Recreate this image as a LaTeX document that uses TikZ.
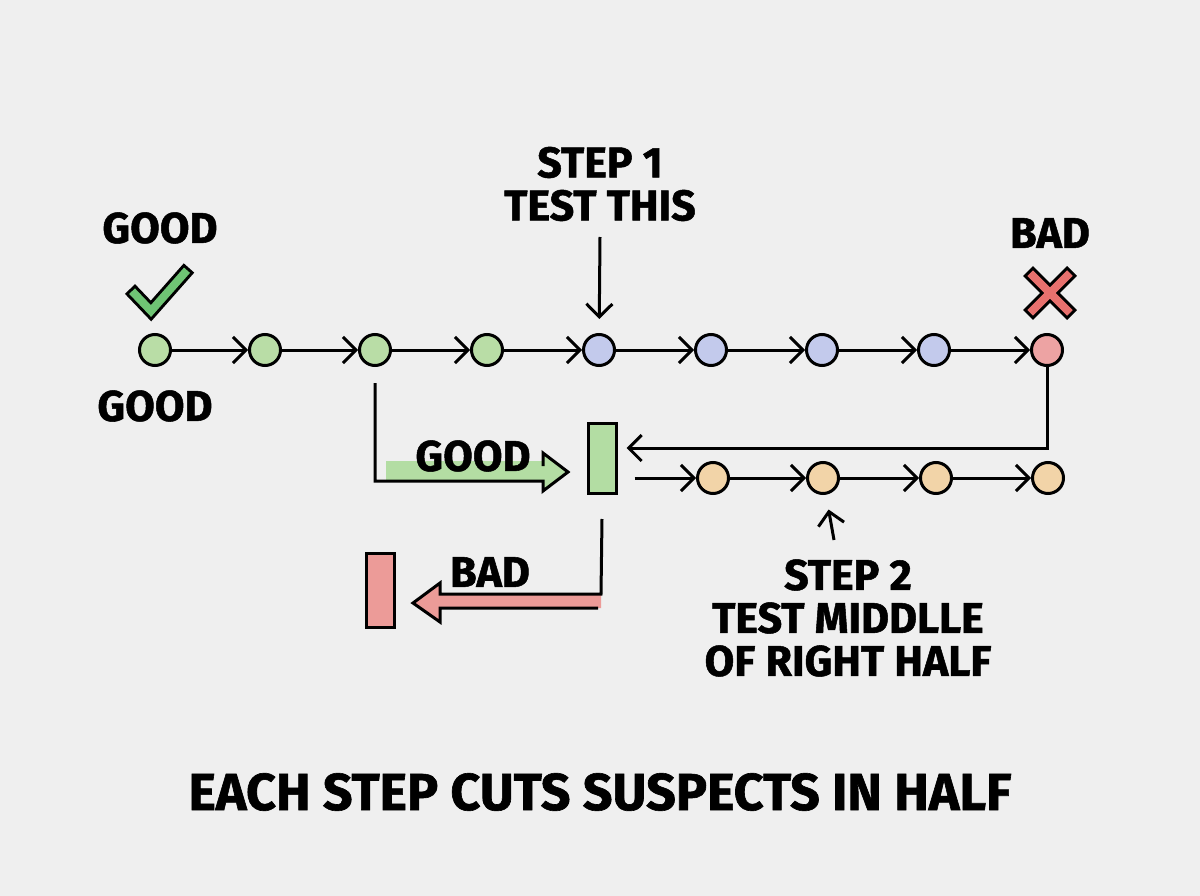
\documentclass[tikz,border=0pt]{standalone}
\usepackage{fontspec}
\setmainfont{Fira Sans}[BoldFeatures={FakeBold=1.2}]
\usetikzlibrary{arrows.meta}
\definecolor{bg}{HTML}{EFEFEF}
\definecolor{gnode}{HTML}{B9DDA6}
\definecolor{bnode}{HTML}{C3CAEC}
\definecolor{rnode}{HTML}{EDA3A3}
\definecolor{onode}{HTML}{F2D4A8}
\definecolor{gband}{HTML}{B3DDA3}
\definecolor{rband}{HTML}{EC9B98}
\definecolor{checkg}{HTML}{6FC474}
\definecolor{crossr}{HTML}{E8716E}
\begin{document}
\begin{tikzpicture}[x=1pt,y=-1pt,line width=3pt,
  dot/.style={circle,draw=black,line width=3pt,minimum size=31pt,inner sep=0pt},
  bar/.style={rectangle,draw=black,line width=3pt,minimum width=28pt,inner sep=0pt},
  lab/.style={font=\bfseries\fontsize{43}{43}\selectfont,align=center,inner sep=0pt},
  big/.style={font=\bfseries\fontsize{52}{56}\selectfont,inner sep=0pt},
  arr/.style={-{Straight Barb[length=13pt,width=26pt,line width=3pt]},line width=3pt},
  symb/.style={line width=14pt,line cap=butt,line join=miter}]
\fill[bg] (0,0) rectangle (1200,896);
\useasboundingbox (0,0) rectangle (1200,896);

% main row
\node[dot,fill=gnode] (n1) at (155,350) {};
\node[dot,fill=gnode] (n2) at (265,350) {};
\node[dot,fill=gnode] (n3) at (375,350) {};
\node[dot,fill=gnode] (n4) at (487,350) {};
\node[dot,fill=bnode] (n5) at (599,350) {};
\node[dot,fill=bnode] (n6) at (711,350) {};
\node[dot,fill=bnode] (n7) at (822,350) {};
\node[dot,fill=bnode] (n8) at (934,350) {};
\node[dot,fill=rnode] (n9) at (1047,350) {};
\foreach \a/\b in {n1/n2,n2/n3,n3/n4,n4/n5,n5/n6,n6/n7,n7/n8,n8/n9}
  \draw[arr] (\a) -- (\b);

% labels top
\node[lab] (good1) at (160,228) {GOOD};
\node[lab] (good2) at (155,406) {GOOD};
\node[lab] (bad1) at (1050,233) {BAD};
\node[lab] (step1) at (600,184) {STEP 1\\TEST THIS};
\coordinate (s1a) at (600,237);
\draw[arr,shorten >=14pt] (s1a) -- (n5);

% check mark
\coordinate (c1) at (130,289);
\coordinate (c2) at (151,311);
\coordinate (c3) at (189,268);
\draw[symb,black] (c1) -- (c2) -- (c3);
\draw[symb,line width=8pt,checkg,shorten <=3pt,shorten >=3pt] (c1) -- (c2) -- (c3);

% cross
\coordinate (x1) at (1028,271);
\coordinate (x2) at (1072,315);
\coordinate (x3) at (1072,271);
\coordinate (x4) at (1028,315);
\draw[symb,black] (x1) -- (x2) (x3) -- (x4);
\draw[symb,line width=8pt,crossr,shorten <=3pt,shorten >=3pt] (x1) -- (x2);
\draw[symb,line width=8pt,crossr,shorten <=3pt,shorten >=3pt] (x3) -- (x4);

% bars
\node[bar,fill=gband,minimum height=70pt] (gr) at (602,458) {};
\node[bar,fill=rband,minimum height=74pt] (rr) at (380,590) {};

% good block arrow
\coordinate (g0) at (375,383);
\fill[gband] (386,461) rectangle (545,480);
\fill[gband] (543,453) -- (568,472) -- (543,491) -- cycle;
\draw[line join=miter] (543,466) -- (543,453) -- (568,472) -- (543,491) -- (543,481) -- (375,481) -- (g0);
\node[lab] (goodm) at (473,456) {GOOD};

% bad block arrow
\coordinate (b0) at (601,519);
\fill[rband] (601,594) -- (440,594) -- (440,583) -- (413,603) -- (440,622) -- (440,608) -- (601,608) -- cycle;
\draw[line join=miter] (gr.south |- b0) -- (601,594) -- (440,594) -- (440,583) -- (413,603) -- (440,622) -- (440,608) -- (598,608);
\node[lab] (badm) at (490,572) {BAD};

% return arrow from bad node
\draw[arr,shorten >=9pt] (n9.south) |- ([yshift=10pt]gr.east);

% orange row
\node[dot,fill=onode] (o1) at (713,478) {};
\node[dot,fill=onode] (o2) at (823,478) {};
\node[dot,fill=onode] (o3) at (936,478) {};
\node[dot,fill=onode] (o4) at (1048,478) {};
\draw[arr,shorten <=17pt] ([yshift=-20pt]gr.east) -- (o1);
\foreach \a/\b in {o1/o2,o2/o3,o3/o4}
  \draw[arr] (\a) -- (\b);

% step 2
\coordinate (s2a) at (834,540);
\draw[arr,shorten >=15pt] (s2a) -- (o2);
\node[lab] (step2) at (848,618) {STEP 2\\TEST MIDDLLE\\OF RIGHT HALF};

% bottom
\node[big] (bottom) at (600,792) {EACH STEP CUTS SUSPECTS IN HALF};
\end{tikzpicture}
\end{document}
